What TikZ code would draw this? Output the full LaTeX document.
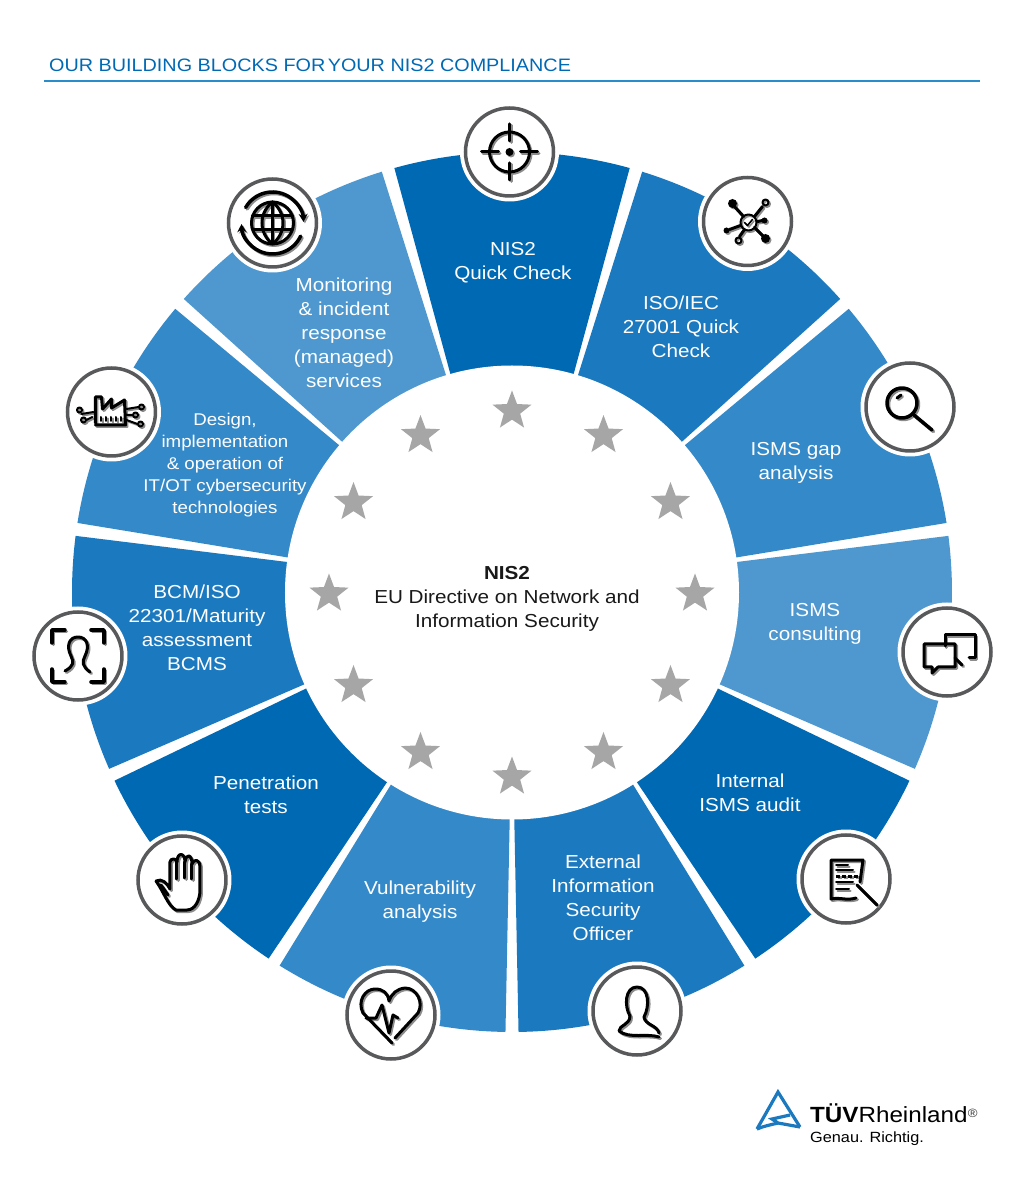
\documentclass[tikz,border=0pt]{standalone}
\usepackage{fontspec}
\setmainfont[FakeStretch=1.1]{Liberation Sans}
\usetikzlibrary{shapes.geometric,arrows.meta,calc}

\definecolor{tuvdark}{HTML}{0069B4}
\definecolor{tuvmid}{HTML}{1B79BF}
\definecolor{tuvsoft}{HTML}{3489C9}
\definecolor{tuvpale}{HTML}{4E98CF}
\definecolor{tuvrule}{HTML}{2A8CCB}
\definecolor{ringgrey}{HTML}{58595B}

\tikzset{
    wheeltext/.style={text=white,align=center,inner sep=0pt,font=\fontsize{18.8}{24}\selectfont},
    smalltext/.style={wheeltext,font=\fontsize{17}{22}\selectfont},
    iconring/.style={circle,draw=ringgrey,line width=3.5pt,fill=white,minimum size=88pt,inner sep=0pt},
    iconhalo/.style={circle,fill=white,minimum size=99pt,inner sep=0pt},
    iconline/.style={color=black,line width=3pt,line cap=round,line join=round},
    iconshade/.style={color=black!45,line width=3pt,line cap=round,line join=round},
    staricon/.style={star,star points=5,star point ratio=2.382,fill=black!35,draw=none,minimum size=41pt,inner sep=0pt},
    logoline/.style={tuvmid,line width=3.2pt,line join=miter}
}

% grey copy first, then the black one
\newcommand{\drawicon}[2]{%
    \begin{scope}[shift={(#1.center)},xshift=1.5pt,yshift=-1.5pt,iconshade]#2\end{scope}
    \begin{scope}[shift={(#1.center)},iconline]#2\end{scope}
}

\begin{document}
\begin{tikzpicture}[x=1pt,y=1pt]
\useasboundingbox (-512,-606) rectangle (512,592);

% title
\node[anchor=base west,inner sep=0pt,text=tuvdark,font=\fontsize{18}{18}\selectfont] (title) at (-463,520) {OUR BUILDING BLOCKS {\spaceskip=2.5pt FOR YOUR} NIS2 COMPLIANCE};
\coordinate (ruleL) at (-468,511);
\coordinate (ruleR) at (468,511);
\draw[tuvrule,line width=1.5pt] (ruleL) -- (ruleR);

% wheel, clockwise from the top, the gaps narrow towards the middle
\foreach \a/\col [count=\i] in {106.36/tuvdark,73.64/tuvmid,40.91/tuvsoft,8.18/tuvpale,-24.55/tuvdark,-57.27/tuvmid,-90/tuvsoft,-122.73/tuvdark,-155.45/tuvmid,-188.18/tuvsoft,-220.91/tuvpale}{
    \fill[\col] ({\a-0.5}:200) -- ({\a-0.85}:440) arc[start angle={\a-0.85},delta angle=-31.03,radius=440] -- ({\a-32.23}:200) -- cycle;
}
\fill[white] (0,-0.5) circle(227);

% stars
\foreach \a in {0,30,...,330}{
    \node[staricon] (star\a) at ($(\a:183)+(0,-2)$) {};
}

% texts
\node[wheeltext,text=black!90] (centre) at (-5,-7) {\textbf{NIS2}\\EU Directive on Network and\\Information Security};
\node[wheeltext] (quick) at (1,329) {NIS2\\Quick Check};
\node[wheeltext] (iso) at (169,265) {ISO/IEC\\27001 Quick\\Check};
\node[wheeltext] (gap) at (284,129) {ISMS gap\\analysis};
\node[wheeltext] (consulting) at (303,-32) {ISMS\\consulting};
\node[wheeltext] (audit) at (238,-201) {Internal\\ISMS audit};
\node[wheeltext] (officer) at (91,-306) {External\\Information\\Security\\Officer};
\node[wheeltext] (vuln) at (-92,-310) {Vulnerability\\analysis};
\node[wheeltext] (pen) at (-246,-203) {Penetration\\tests};
\node[wheeltext] (bcm) at (-315,-36) {BCM/ISO\\22301/Maturity\\assessment\\BCMS};
\node[smalltext] (design) at (-287,127) {Design,\\implementation\\\& operation of\\IT/OT cybersecurity\\technologies};
\node[wheeltext] (monitor) at (-168,259) {Monitoring\\\& incident\\response\\(managed)\\services};

% icon rings
\foreach \nm/\x/\y in {target/-2.5/440,network/235.5/370.5,lens/398/185,chat/435/-60,doc/334/-287,person/125/-419,heart/-121/-423,hand/-330/-288,face/-434/-64,factory/-400.5/180,globe/-239.5/369}{
    \node[iconhalo] (\nm halo) at (\x,\y) {};
    \node[iconring] (\nm) at (\x,\y) {};
}

\drawicon{target}{
    \draw (0,0) circle(20);
    \fill (0,0) circle(4);
    \draw (-28,0) -- (-11,0);
    \draw (11,0) -- (28,0);
    \draw (0,28) -- (0,11);
    \draw (0,-11) -- (0,-28);
}
\drawicon{network}{
    \draw[line width=2pt] (1,-1) circle(8);
    \draw[line width=1.6pt] (-3,-1) -- (0,-4) -- (5,2);
    \draw (-4,5) -- (-14,16);
    \fill (-15,18) circle(4.5);
    \draw (7,5) -- (15,15);
    \draw[line width=2pt] (18,19) circle(3);
    \draw (10,0) -- (15,1);
    \fill (17,1) circle(3);
    \draw (7,-6) -- (16,-15);
    \fill (18,-17) circle(4.5);
    \draw (-3,-8) -- (-8,-15);
    \draw[line width=2pt] (-9,-19) circle(3);
    \draw (-7,-4) -- (-18,-8);
    \fill (-21,-9) circle(3);
}
\drawicon{lens}{
    \draw[line width=3.5pt] (-8,4) circle(15);
    \draw[line width=3pt] (-13,9) -- (-9,12);
    \draw[line width=3.5pt] (4,-8) -- (22,-23);
}
\drawicon{chat}{
    \draw (-2,6) -- (-2,17) -- (28,17) -- (28,-6) -- (22,-6);
    \draw (8,-6) -- (15,-13);
    \draw (-23,8) -- (8,8) -- (8,-15) -- (-9,-15) -- (-15,-21) -- (-15,-15) -- (-23,-15) -- cycle;
}
\drawicon{doc}{
    \draw (14,-3) -- (17,19) -- (-15,19) -- (-15,-20) .. controls (-5,-18) and (0,-22) .. (10,-19);
    \draw[line width=2pt] (-10,14) -- (2,14);
    \draw[line width=2pt] (-10,9) -- (7,9);
    \draw[line width=3pt,dash pattern=on 4pt off 2pt,line cap=butt] (-10,3) -- (12,3);
    \draw[line width=2pt] (-10,-3) -- (7,-3);
    \draw[line width=2pt] (-10,-10) -- (3,-10);
    \draw[line width=3pt] (11,-6) -- (31,-26);
}
\drawicon{person}{
    \draw (-7,-5) .. controls (-13,5) and (-12,24) .. (0,24) .. controls (12,24) and (13,5) .. (7,-6) .. controls (8,-14) and (20,-14) .. (22,-22);
    \draw (-7,-5) .. controls (-7,-14) and (-18,-14) .. (-18,-20) .. controls (-8,-28) and (10,-22) .. (22,-26);
}
\drawicon{heart}{
    \draw (1,-28) -- (-28,2) .. controls (-34,14) and (-26,26) .. (-16,26) .. controls (-8,26) and (-3,22) .. (-2,14) .. controls (1,22) and (6,26) .. (14,27) .. controls (26,27) and (33,12) .. (27,2) -- (4,-23);
    \draw (-25,-3) -- (-15,-3) -- (-9,10) -- (-2,-18) -- (2,0) -- (7,-3);
}
\drawicon{hand}{
    \draw (-26,-1) .. controls (-20,2) and (-15,-3) .. (-12,-9) -- (-12,18) .. controls (-12,22) and (-5,22) .. (-5,18) .. controls (-5,28) and (3,28) .. (3,18) .. controls (4,27) and (10,26) .. (10,16) .. controls (12,22) and (18,20) .. (18,14) -- (18,-10) .. controls (18,-20) and (13,-30) .. (5,-30) -- (-6,-30) .. controls (-14,-26) and (-18,-12) .. (-26,-1);
    \draw (-5,18) -- (-5,1);
    \draw (3,18) -- (3,2);
    \draw (10,16) -- (10,1);
    \draw (-21,-5) -- (-14,-15);
}
\drawicon{face}{
    \draw[line width=3.5pt] (-26,13) -- (-26,26) -- (-13,26);
    \draw[line width=3.5pt] (13,26) -- (26,26) -- (26,13);
    \draw[line width=3.5pt] (-26,-13) -- (-26,-26) -- (-13,-26);
    \draw[line width=3.5pt] (13,-26) -- (26,-26) -- (26,-13);
    \draw (-13,-15) .. controls (-4,-10) and (-4,-6) .. (-7,0) .. controls (-12,10) and (-9,19) .. (0,19) .. controls (9,19) and (12,10) .. (7,0) .. controls (4,-6) and (4,-10) .. (12,-16);
}
\drawicon{factory}{
    \draw (-16,-11) -- (-16,15) -- (-10,15) -- (-9,3) -- (0,13) -- (0,4) -- (13,12) -- (14,-13) -- (-16,-13);
    \draw[line width=2pt] (-10,-9) -- (-10,-5) (-5,-9) -- (-5,-5) (0,-9) -- (0,-5) (5,-9) -- (5,-5) (10,-9) -- (10,-5);
    \draw[line width=2pt] (-32,2) circle(2.5);
    \draw[line width=2pt] (-28,-8) circle(2.5);
    \draw[line width=2pt] (-30,-2) -- (-18,0) (-25,-8) -- (-19,-5);
    \draw[line width=2pt] (30,5) circle(2.5);
    \draw[line width=2pt] (24,-3) circle(2.5);
    \draw[line width=2pt] (29,-12) circle(2.5);
    \draw[line width=2pt] (27,5) -- (15,3) (21,-3) -- (15,-3) (26,-12) -- (15,-8);
}
\drawicon{globe}{
    \draw (0,0) circle(21);
    \draw (0,21) -- (0,-21);
    \draw (0,21) .. controls (-14,10) and (-14,-10) .. (0,-21);
    \draw (0,21) .. controls (14,10) and (14,-10) .. (0,-21);
    \draw (-20,7) -- (20,7);
    \draw (-20,-7) -- (20,-7);
    \draw[line width=3.5pt,-{Stealth[length=8pt,width=9pt]}] (150:31) arc[start angle=150,end angle=2,radius=31];
    \draw[line width=3.5pt,-{Stealth[length=8pt,width=9pt]}] (-25:31) arc[start angle=-25,end angle=-178,radius=31];
}

% logo
\coordinate (logoL) at (245,-537);
\coordinate (logoT) at (266,-500);
\coordinate (logoR) at (288,-535);
\draw[logoline] (logoL) -- (logoT) -- (logoR);
\draw[logoline] (278,-523) -- (260,-527) -- (266,-531) -- (logoR);
\draw[logoline] (logoL) .. controls (252,-534) and (258,-533) .. (266,-531);
\node[anchor=base west,inner sep=0pt,text=black,font=\fontsize{22}{22}\selectfont] (brand) at (298,-530) {\textbf{TÜV}Rheinland};
\node[anchor=base west,inner sep=0pt,text=black!80,font=\fontsize{12}{12}\selectfont] (regmark) at (brand.base east) {\raisebox{5pt}{®}};
\node[anchor=base west,inner sep=0pt,text=black,font=\fontsize{14.8}{14.8}\selectfont] (slogan) at (298,-550) {Genau. Richtig.};
\end{tikzpicture}
\end{document}
